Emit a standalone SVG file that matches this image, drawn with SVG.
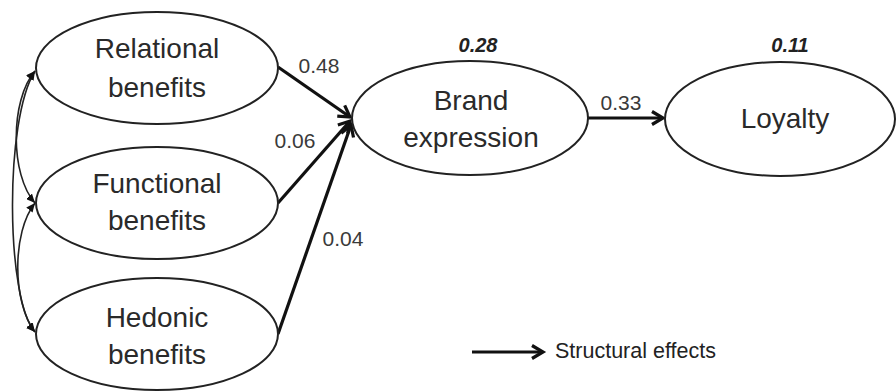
<svg xmlns="http://www.w3.org/2000/svg" width="896" height="391" viewBox="0 0 896 391">
<defs>
<style>
.node ellipse{fill:#fff;stroke:#222;stroke-width:2}
.nt{font-family:"Liberation Sans",Arial,sans-serif;font-size:28px;fill:#2a2a2a;text-anchor:middle}
.lbl{font-family:"Liberation Sans",Arial,sans-serif;font-size:21px;fill:#3a3a3a;text-anchor:middle}
.r2{font-family:"Liberation Sans",Arial,sans-serif;font-size:20px;font-weight:bold;font-style:italic;fill:#222;text-anchor:middle}
.path{fill:none;stroke:#111;stroke-width:3.2}
.cov{fill:none;stroke:#222;stroke-width:1.6}
.leg{font-family:"Liberation Sans",Arial,sans-serif;font-size:21.5px;fill:#222}
</style>
<marker id="ah" markerUnits="userSpaceOnUse" markerWidth="18" markerHeight="18" refX="13" refY="9" orient="auto">
<path d="M2,2.5 L13,9 L2,15.5" fill="none" stroke="#111" stroke-width="3.2"/>
</marker>
<marker id="sh" markerUnits="userSpaceOnUse" markerWidth="10" markerHeight="8" refX="9" refY="4" orient="auto-start-reverse">
<path d="M0,0 L9,4 L0,8 z" fill="#111"/>
</marker>
</defs>
<rect width="896" height="391" fill="#fff"/>
<g id="connectors">
<path class="path" d="M278,67 L350,117" marker-end="url(#ah)"/>
<path class="path" d="M278,203 L350,121" marker-end="url(#ah)"/>
<path class="path" d="M278,334 L351,125" marker-end="url(#ah)"/>
<path class="path" d="M588,118 L663,118" marker-end="url(#ah)"/>
<path class="cov" d="M35,71 C10,100 10,175 35,203" marker-start="url(#sh)" marker-end="url(#sh)"/>
<path class="cov" d="M35,71 C4,120 6,300 35,332" marker-start="url(#sh)" marker-end="url(#sh)"/>
<path class="cov" d="M35,203 C12,232 12,302 35,332" marker-start="url(#sh)" marker-end="url(#sh)"/>
</g>
<g id="relational" class="node">
<ellipse cx="157" cy="68" rx="121" ry="56"/>
<text class="nt" x="157" y="58">Relational</text>
<text class="nt" x="157" y="97">benefits</text>
</g>
<g id="functional" class="node">
<ellipse cx="157" cy="203" rx="121" ry="56"/>
<text class="nt" x="157" y="193">Functional</text>
<text class="nt" x="157" y="230">benefits</text>
</g>
<g id="hedonic" class="node">
<ellipse cx="157" cy="334" rx="121" ry="56"/>
<text class="nt" x="157" y="327">Hedonic</text>
<text class="nt" x="157" y="364">benefits</text>
</g>
<g id="brand" class="node">
<ellipse cx="470" cy="118" rx="118" ry="57"/>
<text class="nt" x="471" y="110">Brand</text>
<text class="nt" x="471" y="147">expression</text>
</g>
<g id="loyalty" class="node">
<ellipse cx="780" cy="119" rx="115" ry="57"/>
<text class="nt" x="785" y="128">Loyalty</text>
</g>
<g id="labels">
<text class="lbl" x="319" y="73">0.48</text>
<text class="lbl" x="295" y="148">0.06</text>
<text class="lbl" x="343" y="246">0.04</text>
<text class="lbl" x="621" y="110">0.33</text>
<text class="r2" x="478" y="52">0.28</text>
<text class="r2" x="790" y="52">0.11</text>
</g>
<g id="legend">
<path class="path" d="M472,352 L543,352" marker-end="url(#ah)"/>
<text class="leg" x="555" y="358">Structural effects</text>
</g>
</svg>
